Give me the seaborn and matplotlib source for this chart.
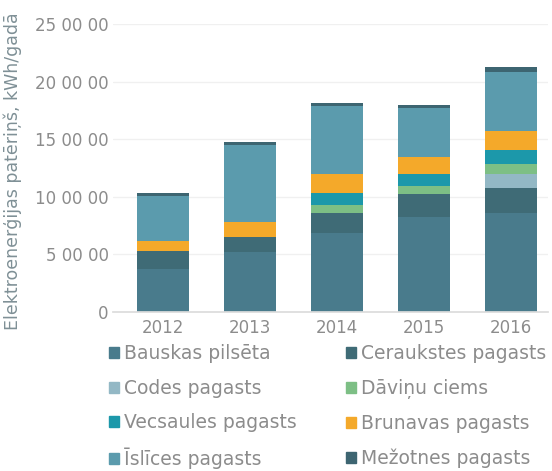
import matplotlib
matplotlib.use("Agg")
import matplotlib.pyplot as plt
import numpy as np
import pandas as pd
import seaborn as sns

years = ["2012", "2013", "2014", "2015", "2016"]

bauskas = [370000, 518000, 688000, 827000, 857000]
ceraukstes = [161000, 130000, 174000, 197000, 217000]
codes = [0, 0, 0, 0, 127000]
davinu = [0, 0, 64000, 69000, 82000]
vecsaules = [0, 0, 107000, 107000, 127000]
brunavas = [84000, 135000, 165000, 142000, 160000]
islices = [393000, 666000, 590000, 431000, 509000]
mezotnes = [23000, 23000, 23000, 21000, 47000]

series_names = ["Bauskas pilsēta", "Ceraukstes pagasts", "Codes pagasts",
                "Dāviņu ciems", "Vecsaules pagasts", "Brunavas pagasts",
                "Īslīces pagasts", "Mežotnes pagasts"]
series_values = [bauskas, ceraukstes, codes, davinu, vecsaules, brunavas,
                 islices, mezotnes]
colors = ["#497b8c", "#3f6b76", "#93b8c5", "#7dbf85", "#1c98aa", "#f4a92a",
          "#5b9bad", "#3d6571"]

y_ticks = [0, 500000, 1000000, 1500000, 2000000, 2500000]
y_tick_labels = ["0", "5 00 00", "10 00 00", "15 00 00", "20 00 00", "25 00 00"]

text_color = "#8c8c8c"


def main():
    sns.set_theme(style="white")
    plt.rcParams["font.family"] = ["DejaVu Sans"]

    fig = plt.figure(figsize=(5.52, 4.71), dpi=100)
    ax = fig.add_axes([113 / 552, 1 - 312 / 471, 435 / 552, 288 / 471])

    bottom = np.zeros(len(years))
    handles = []
    for name, vals, col in zip(series_names, series_values, colors):
        df = pd.DataFrame({"year": years, "value": vals})
        sns.barplot(data=df, x="year", y="value", color=col, width=0.6,
                    bottom=bottom.copy(), errorbar=None, saturation=1,
                    linewidth=0, ax=ax)
        handles.append(plt.Rectangle((0, 0), 1, 1, color=col, label=name))
        bottom += np.array(vals)

    ax.set_xlim(-0.575, 4.425)
    ax.set_ylim(0, 2500000)
    ax.set_yticks(y_ticks)
    ax.set_yticklabels(y_tick_labels)
    ax.yaxis.grid(True, color="#f0f0f0", linewidth=1)
    ax.set_axisbelow(True)
    for s in ["top", "right", "left"]:
        ax.spines[s].set_visible(False)
    ax.spines["bottom"].set_color("#dcdcdc")
    ax.tick_params(axis="both", length=0, labelsize=12, colors=text_color,
                   pad=3)
    ax.tick_params(axis="x", pad=5)
    ax.set_xlabel("")
    ax.set_ylabel("Elektroenerģijas patēriņš, kWh/gadā", fontsize=12.5,
                  color="#7f9096")
    ax.yaxis.set_label_coords(-0.21, 0.49)

    order = [0, 2, 4, 6, 1, 3, 5, 7]
    leg = fig.legend([handles[i] for i in order],
                     [series_names[i] for i in order],
                     ncol=2, loc="upper left", bbox_to_anchor=(0.183, 0.285),
                     frameon=False, fontsize=13.5, handlelength=0.55,
                     handleheight=0.55, handletextpad=0.25, columnspacing=2.65,
                     labelspacing=0.83, borderaxespad=0)
    for t in leg.get_texts():
        t.set_color(text_color)

    fig.savefig("out.png", dpi=100, facecolor="white")


if __name__ == "__main__":
    main()
